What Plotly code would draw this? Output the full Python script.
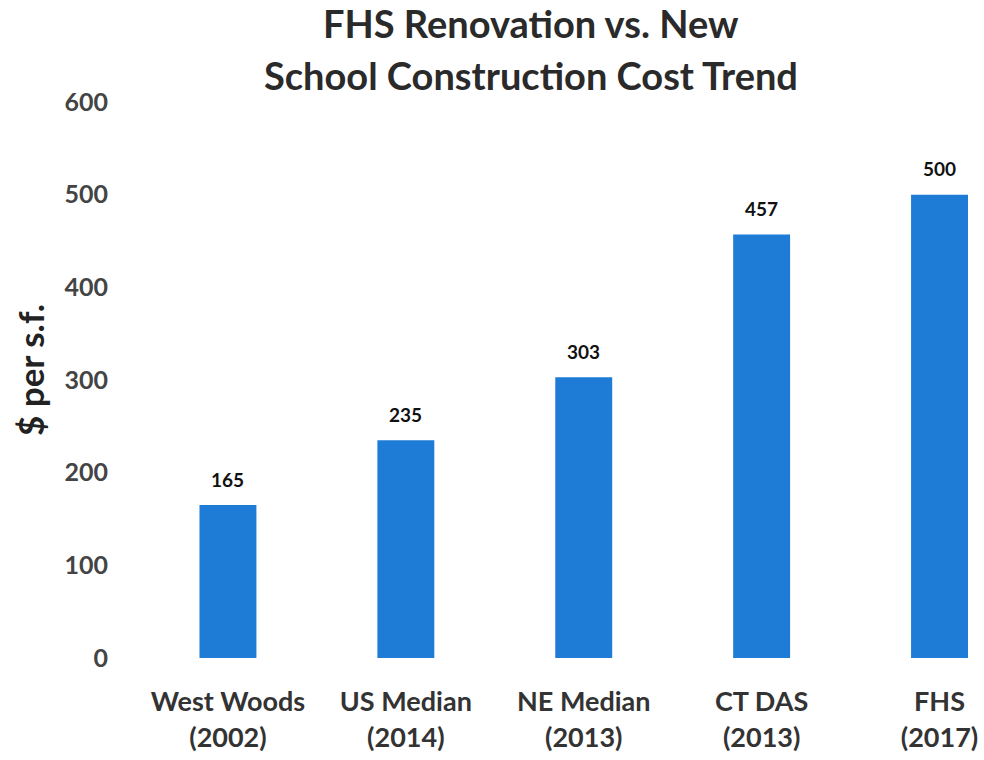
import plotly.graph_objects as go

categories = ["West Woods<br>(2002)", "US Median<br>(2014)", "NE Median<br>(2013)", "CT DAS<br>(2013)", "FHS<br>(2017)"]
values = [165, 235, 303, 457, 500]
y_ticks = [0, 100, 200, 300, 400, 500, 600]
title_lines = ["FHS Renovation vs. New", "School Construction Cost Trend"]

PLOT_L, PLOT_W, PLOT_B, PLOT_H = 139, 845, 658, 556


def px_x(x):
    return (x - PLOT_L) / PLOT_W


def px_y(y):
    return (PLOT_B - y) / PLOT_H


fig = go.Figure()
fig.add_trace(go.Bar(
    x=categories, y=values,
    marker=dict(color="#1E7BD6", line=dict(width=0)),
    width=0.32,
))

for c, v in zip(categories, values):
    fig.add_annotation(
        x=c, y=v, text=str(v), showarrow=False, yshift=26, yanchor="middle",
        font=dict(family="Lato", size=19, color="#111111", weight="bold"),
    )

fig.add_annotation(
    x=px_x(30), xref="paper", y=px_y(370), yref="paper",
    text="$ per s.f.", textangle=-90, showarrow=False,
    xanchor="center", yanchor="middle",
    font=dict(family="Lato", size=35, color="#222222", weight="bold"),
)

for line, ypx in zip(title_lines, [23, 75]):
    fig.add_annotation(
        x=px_x(531), xref="paper", y=px_y(ypx), yref="paper",
        text=line, showarrow=False, xanchor="center", yanchor="middle",
        font=dict(family="Lato", size=38, color="#2a2a2a", weight="bold"),
    )

fig.update_layout(
    width=984, height=760,
    margin=dict(l=PLOT_L, r=0, t=102, b=102),
    paper_bgcolor="white", plot_bgcolor="white",
    showlegend=False,
    font=dict(family="Lato"),
)

fig.update_xaxes(
    range=[-0.5, 4.25], showline=False, showgrid=False, zeroline=False,
    tickfont=dict(family="Lato", size=27, color="#333333", weight="bold"),
    ticks="outside", ticklen=20, tickcolor="rgba(0,0,0,0)",
)
fig.update_yaxes(
    range=[0, 600], tickvals=y_ticks, showgrid=False, zeroline=False, showline=False,
    tickfont=dict(family="Lato", size=25, color="#444444", weight="bold"),
    ticks="outside", ticklen=25, tickcolor="rgba(0,0,0,0)",
)

fig.write_html("out.html")
